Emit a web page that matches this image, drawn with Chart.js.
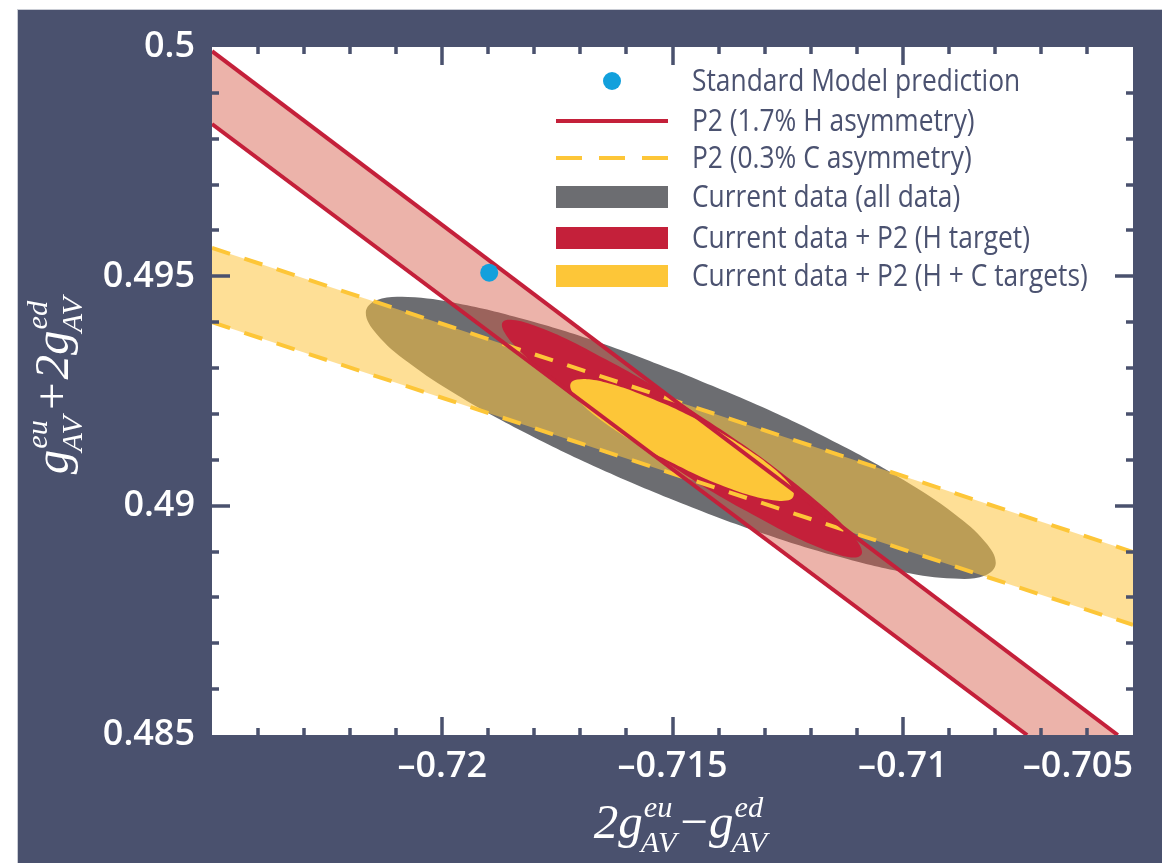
<!DOCTYPE html>
<html>
<head>
<meta charset="utf-8">
<script src="https://cdn.jsdelivr.net/npm/chart.js@4.4.1/dist/chart.umd.min.js"></script>
<style>
  html, body { margin: 0; padding: 0; background: #ffffff; }
  canvas { display: block; }
</style>
</head>
<body>
<canvas id="c" width="1162" height="863"></canvas>
<script>
// ---------------- data ----------------
const xTickValues = [-0.725, -0.72, -0.715, -0.71, -0.705];
const xTickLabels = ['', '\u20130.72', '\u20130.715', '\u20130.71', '\u20130.705'];
const yTickValues = [0.485, 0.49, 0.495, 0.5];
const yTickLabels = ['0.485', '0.49', '0.495', '0.5'];
const xRange = [-0.725, -0.705];
const yRange = [0.485, 0.5];
const minorStep = 0.001;

// Standard Model prediction
const smX = [-0.71898];
const smY = [0.49508];

// P2 hydrogen band edges (solid red)
const hUpperX = [-0.725, -0.70533];
const hUpperY = [0.49991, 0.485];
const hLowerX = [-0.725, -0.70730];
const hLowerY = [0.49832, 0.485];

// P2 carbon band edges (dashed yellow)
const cUpperX = [-0.725, -0.705];
const cUpperY = [0.49562, 0.48899];
const cLowerX = [-0.725, -0.705];
const cLowerY = [0.49400, 0.48740];

// Current data (all data) contour
const grayX = [-0.71482,-0.71659,-0.71824,-0.71966,-0.72075,-0.72143,-0.72166,-0.72143,-0.72075,-0.71966,-0.71824,-0.71659,-0.71482,-0.71305,-0.71140,-0.70998,-0.70889,-0.70821,-0.70798,-0.70821,-0.70889,-0.70998,-0.71140,-0.71305];
const grayY = [0.49290,0.49356,0.49407,0.49441,0.49455,0.49448,0.49421,0.49375,0.49313,0.49240,0.49161,0.49081,0.49006,0.48940,0.48889,0.48855,0.48841,0.48848,0.48875,0.48921,0.48983,0.49056,0.49135,0.49215];

// Current data + P2 (H target) contour
const redX = [-0.71514,-0.71614,-0.71704,-0.71779,-0.71834,-0.71865,-0.71869,-0.71847,-0.71800,-0.71731,-0.71645,-0.71547,-0.71445,-0.71345,-0.71255,-0.71180,-0.71125,-0.71094,-0.71090,-0.71112,-0.71159,-0.71228,-0.71314,-0.71412];
const redY = [0.49094,0.49161,0.49228,0.49289,0.49340,0.49378,0.49400,0.49405,0.49393,0.49364,0.49319,0.49264,0.49199,0.49132,0.49065,0.49004,0.48953,0.48915,0.48893,0.48887,0.48900,0.48929,0.48974,0.49029];

// Current data + P2 (H + C targets) contour
const yelX = [-0.71504,-0.71566,-0.71622,-0.71668,-0.71701,-0.71719,-0.71721,-0.71707,-0.71677,-0.71633,-0.71579,-0.71518,-0.71455,-0.71393,-0.71337,-0.71291,-0.71257,-0.71239,-0.71238,-0.71252,-0.71282,-0.71326,-0.71380,-0.71441];
const yelY = [0.49095,0.49128,0.49163,0.49196,0.49226,0.49250,0.49267,0.49275,0.49275,0.49265,0.49247,0.49222,0.49192,0.49158,0.49123,0.49090,0.49060,0.49036,0.49019,0.49011,0.49012,0.49021,0.49039,0.49064];

const legendLabels = [
  'Standard Model prediction',
  'P2 (1.7% H asymmetry)',
  'P2 (0.3% C asymmetry)',
  'Current data (all data)',
  'Current data + P2 (H target)',
  'Current data + P2 (H + C targets)'
];

// ---------------- styles ----------------
const NAVY = '#4a516e';
const C_SM = '#12a0dc';
const C_RED = '#c4203a';
const C_RED_BAND = 'rgba(212,86,66,0.45)';
const C_YEL = '#fdc638';
const C_YEL_BAND = 'rgba(253,197,64,0.55)';
const C_GRAY = '#6c6d71';
const C_LEGEND_TXT = '#4b5270';

const toPts = (xs, ys) => xs.map((x, i) => ({ x: x, y: ys[i] }));
const closed = pts => pts.concat([pts[0]]);

const hU = toPts(hUpperX, hUpperY), hL = toPts(hLowerX, hLowerY);
const cU = toPts(cUpperX, cUpperY), cL = toPts(cLowerX, cLowerY);

const shapeDs = (pts, color, order, tension) => ({
  data: closed(pts), showLine: true, fill: 'shape', backgroundColor: color,
  borderColor: 'rgba(0,0,0,0)', borderWidth: 0, pointRadius: 0, pointHoverRadius: 0,
  tension: tension || 0, order: order
});
const lineDs = (pts, color, dash, order) => ({
  data: pts, showLine: true, fill: false, borderColor: color, borderWidth: 4,
  borderDash: dash, pointRadius: 0, pointHoverRadius: 0, order: order
});

const datasets = [
  { data: toPts(smX, smY), showLine: false, pointRadius: 9, pointHoverRadius: 9,
    backgroundColor: C_SM, borderWidth: 0, pointBorderWidth: 0, order: 0 },
  lineDs(hU, C_RED, [], 1),
  lineDs(hL, C_RED, [], 1),
  lineDs(cU, C_YEL, [19, 15], 2),
  lineDs(cL, C_YEL, [19, 15], 2),
  shapeDs(toPts(yelX, yelY), C_YEL, 3, 0.4),
  shapeDs(toPts(redX, redY), C_RED, 4, 0.4),
  shapeDs([hU[0], hU[1], hL[1], hL[0]], C_RED_BAND, 5, 0),
  shapeDs([cU[0], cU[1], cL[1], cL[0]], C_YEL_BAND, 6, 0),
  shapeDs(toPts(grayX, grayY), C_GRAY, 7, 0.4)
];

// ---------------- plugins ----------------
const bgPlugin = {
  id: 'bg',
  beforeDraw(chart) {
    const { ctx, chartArea: a, width, height } = chart;
    ctx.save();
    ctx.fillStyle = '#ffffff';
    ctx.fillRect(0, 0, width, height);
    ctx.fillStyle = '#c9ccd4';
    ctx.fillRect(17, 9, width - 17, height - 9);
    ctx.fillStyle = NAVY;
    ctx.fillRect(18, 10, width - 18, height - 10);
    ctx.fillStyle = '#ffffff';
    ctx.fillRect(a.left, a.top, a.right - a.left, a.bottom - a.top);
    ctx.restore();
  }
};

function isMajor(v, majors) { return majors.some(m => Math.abs(m - v) < 1e-9); }

const tickPlugin = {
  id: 'inTicks',
  afterDatasetsDraw(chart) {
    const { ctx, chartArea: a, scales: { x, y } } = chart;
    ctx.save();
    ctx.strokeStyle = NAVY;
    ctx.lineWidth = 3.5;
    ctx.beginPath();
    for (let v = xRange[0] + minorStep; v < xRange[1] - minorStep / 2; v += minorStep) {
      const px = Math.round(x.getPixelForValue(v));
      const len = isMajor(v, xTickValues) ? 18 : 7;
      ctx.moveTo(px, a.bottom); ctx.lineTo(px, a.bottom - len);
      ctx.moveTo(px, a.top); ctx.lineTo(px, a.top + len);
    }
    for (let v = yRange[0] + minorStep; v < yRange[1] - minorStep / 2; v += minorStep) {
      const py = Math.round(y.getPixelForValue(v));
      const len = isMajor(v, yTickValues) ? 18 : 7;
      ctx.moveTo(a.left, py); ctx.lineTo(a.left + len, py);
      ctx.moveTo(a.right, py); ctx.lineTo(a.right - len, py);
    }
    ctx.stroke();
    ctx.restore();
  }
};

const legendPlugin = {
  id: 'customLegend',
  afterDraw(chart) {
    const ctx = chart.ctx;
    const rows = [81, 121, 158, 197, 238, 276];
    const x0 = 556, x1 = 668, tx = 692;
    ctx.save();
    ctx.fillStyle = C_SM;
    ctx.beginPath(); ctx.arc(612, rows[0], 9, 0, Math.PI * 2); ctx.fill();
    ctx.lineWidth = 4;
    ctx.strokeStyle = C_RED;
    ctx.beginPath(); ctx.moveTo(x0, rows[1]); ctx.lineTo(x1, rows[1]); ctx.stroke();
    ctx.strokeStyle = C_YEL;
    ctx.setLineDash([26, 17]);
    ctx.beginPath(); ctx.moveTo(x0, rows[2]); ctx.lineTo(x1 + 2, rows[2]); ctx.stroke();
    ctx.setLineDash([]);
    ctx.fillStyle = C_GRAY; ctx.fillRect(x0, rows[3] - 11, x1 - x0, 22);
    ctx.fillStyle = C_RED; ctx.fillRect(x0, rows[4] - 11, x1 - x0, 22);
    ctx.fillStyle = C_YEL; ctx.fillRect(x0, rows[5] - 11, x1 - x0, 22);
    ctx.fillStyle = C_LEGEND_TXT;
    ctx.font = '31px "Open Sans"';
    ctx.textAlign = 'left';
    ctx.textBaseline = 'middle';
    legendLabels.forEach((lab, i) => {
      ctx.save();
      ctx.translate(tx, rows[i] + 1);
      ctx.scale(0.85, 1);
      ctx.fillText(lab, 0, 0);
      ctx.restore();
    });
    ctx.restore();
  }
};

function drawMath(ctx, parts, cx, baseline, size) {
  const small = size * 0.62;
  const fam = '"Liberation Serif", "DejaVu Serif", serif';
  const mainFont = 'italic ' + size + 'px ' + fam;
  const upFont = size + 'px ' + fam;
  const scriptFont = 'italic ' + small + 'px ' + fam;
  const widthOf = p => {
    if (p.script) {
      ctx.font = scriptFont;
      return Math.max(ctx.measureText(p.sup).width, ctx.measureText(p.sub).width) + 1;
    }
    ctx.font = p.up ? upFont : mainFont;
    return ctx.measureText(p.t).width + (p.pad || 0) * 2;
  };
  const total = parts.reduce((s, p) => s + widthOf(p), 0);
  let x = cx - total / 2;
  ctx.textAlign = 'left';
  ctx.textBaseline = 'alphabetic';
  for (const p of parts) {
    const w = widthOf(p);
    if (p.script) {
      ctx.font = scriptFont;
      ctx.fillText(p.sup, x + 1, baseline - size * 0.42);
      ctx.fillText(p.sub, x - 2, baseline + size * 0.28);
    } else {
      ctx.font = p.up ? upFont : mainFont;
      ctx.fillText(p.t, x + (p.pad || 0), baseline);
    }
    x += w;
  }
}

const xTitleParts = [{ t: '2' }, { t: 'g' }, { script: true, sup: 'eu', sub: 'AV' },
  { t: '\u2212', up: true, pad: 1 }, { t: 'g' }, { script: true, sup: 'ed', sub: 'AV' }];
const yTitleParts = [{ t: 'g' }, { script: true, sup: 'eu', sub: 'AV' },
  { t: '+', up: true, pad: 3 }, { t: '2' }, { t: 'g' }, { script: true, sup: 'ed', sub: 'AV' }];

const titlePlugin = {
  id: 'axisTitles',
  afterDraw(chart) {
    const ctx = chart.ctx;
    ctx.save();
    ctx.fillStyle = '#ffffff';
    drawMath(ctx, xTitleParts, 682, 838, 49);
    ctx.restore();
    ctx.save();
    ctx.fillStyle = '#ffffff';
    ctx.translate(68, 384);
    ctx.rotate(-Math.PI / 2);
    drawMath(ctx, yTitleParts, 0, 0, 49);
    ctx.restore();
  }
};

const labelFor = (vals, labs) => v => {
  const i = vals.findIndex(t => Math.abs(t - v) < 1e-9);
  return i >= 0 ? labs[i] : '';
};

const tickFont = { family: '"Open Sans"', size: 36, weight: '600' };

new Chart(document.getElementById('c'), {
  type: 'scatter',
  data: { datasets: datasets },
  options: {
    responsive: false,
    animation: false,
    devicePixelRatio: 1,
    layout: { padding: { top: 47, right: 29, left: 0, bottom: 0 } },
    plugins: { legend: { display: false }, tooltip: { enabled: false } },
    scales: {
      x: {
        type: 'linear', min: xRange[0], max: xRange[1],
        grid: { display: false, drawTicks: false },
        border: { display: false },
        afterBuildTicks(s) { s.ticks = xTickValues.map(v => ({ value: v })); },
        afterFit(s) { s.height = 128; },
        ticks: {
          color: '#ffffff', font: tickFont, padding: 10, align: 'inner',
          autoSkip: false, maxRotation: 0, minRotation: 0,
          callback: labelFor(xTickValues, xTickLabels)
        }
      },
      y: {
        type: 'linear', min: yRange[0], max: yRange[1],
        grid: { display: false, drawTicks: false },
        border: { display: false },
        afterBuildTicks(s) { s.ticks = yTickValues.map(v => ({ value: v })); },
        afterFit(s) { s.width = 212; },
        ticks: {
          color: '#ffffff', font: tickFont, padding: 17, autoSkip: false,
          callback: labelFor(yTickValues, yTickLabels)
        }
      }
    }
  },
  plugins: [bgPlugin, tickPlugin, legendPlugin, titlePlugin]
});
</script>
</body>
</html>
